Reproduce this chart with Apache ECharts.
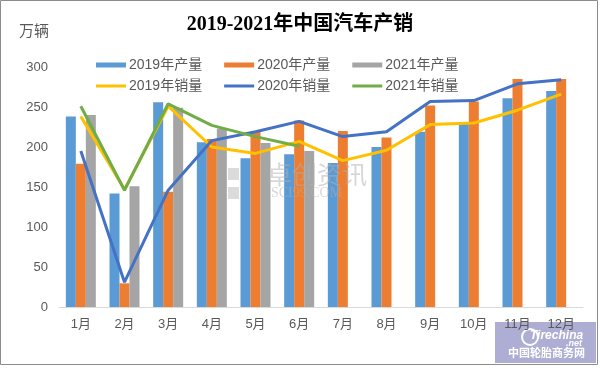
<!DOCTYPE html>
<html>
<head>
<meta charset="utf-8">
<script src="https://cdn.jsdelivr.net/npm/echarts@6/dist/echarts.min.js"></script>
<style>html,body{margin:0;padding:0;background:#fff;}#c{width:600px;height:369px;}</style>
</head>
<body>
<div id="c"></div>
<script>
const months = ['1月','2月','3月','4月','5月','6月','7月','8月','9月','10月','11月','12月'];
const prod2019 = [238, 142, 256, 206, 186, 191, 180, 200, 219, 229, 261, 270];
const prod2020 = [179, 29.6, 144, 210, 219, 233, 220, 212, 252, 257, 285, 285];
const prod2021 = [240, 151, 249, 223, 205, 195, null, null, null, null, null, null];
const sales2019 = [238, 147, 251, 200, 192, 207, 183, 196, 228, 230, 246, 266];
const sales2020 = [195, 31, 146, 208, 219, 232, 213, 219, 257, 258, 279, 284];
const sales2021 = [251, 146, 254, 227, 213, 201, null, null, null, null, null, null];
const yTicks = [0, 50, 100, 150, 200, 250, 300];

const FONT = '"Liberation Sans","Noto Sans CJK SC",sans-serif';
const txt = '#595959';
const lineIcon = 'path://M0,0L30,0L30,3L0,3Z';

const chart = echarts.init(document.getElementById('c'), null, {renderer: 'canvas'});
const legendBase = {
  left: 96, padding: 0, itemWidth: 30, itemHeight: 5, itemGap: 22,
  textStyle: {color: txt, fontSize: 14, fontFamily: FONT, padding: [0,0,0,-2]},
  selectedMode: false
};
chart.setOption({
  animation: false,
  title: {
    text: '2019-2021年中国汽车产销', left: 'center', top: 10,
    textStyle: {fontSize: 20, fontWeight: 'bold', color: '#000', fontFamily: '"Liberation Serif","Noto Sans CJK SC",serif'}
  },
  legend: [
    Object.assign({}, legendBase, {top: 58, data: [
      {name: '2019年产量', icon: 'rect'}, {name: '2020年产量', icon: 'rect'}, {name: '2021年产量', icon: 'rect'}]}),
    Object.assign({}, legendBase, {top: 79, data: [
      {name: '2019年销量', icon: lineIcon}, {name: '2020年销量', icon: lineIcon}, {name: '2021年销量', icon: lineIcon}]})
  ],
  grid: {left: 59, right: 17, top: 67, bottom: 62},
  xAxis: {
    type: 'category', data: months, z: 10,
    axisLine: {lineStyle: {color: '#d9d9d9', width: 1}},
    axisTick: {show: false},
    axisLabel: {color: txt, fontSize: 13, fontFamily: FONT, margin: 11}
  },
  yAxis: {
    type: 'value', min: yTicks[0], max: yTicks[yTicks.length-1], interval: yTicks[1]-yTicks[0],
    splitLine: {show: false}, axisLine: {show: false}, axisTick: {show: false},
    axisLabel: {color: txt, fontSize: 13, fontFamily: FONT, margin: 11}
  },
  series: [
    {name: '2019年产量', type: 'bar', data: prod2019, barWidth: 10, barGap: '0%', itemStyle: {color: '#5B9BD5'}},
    {name: '2020年产量', type: 'bar', data: prod2020, barWidth: 10, barGap: '0%', itemStyle: {color: '#ED7D31'}},
    {name: '2021年产量', type: 'bar', data: prod2021, barWidth: 10, barGap: '0%', itemStyle: {color: '#A5A5A5'}},
    {name: '2019年销量', type: 'line', data: sales2019, showSymbol: false, symbol: 'none', itemStyle: {color: '#FFC000'}, lineStyle: {width: 3, color: '#FFC000'}},
    {name: '2020年销量', type: 'line', data: sales2020, showSymbol: false, symbol: 'none', itemStyle: {color: '#4472C4'}, lineStyle: {width: 3, color: '#4472C4'}},
    {name: '2021年销量', type: 'line', data: sales2021, showSymbol: false, symbol: 'none', itemStyle: {color: '#70AD47'}, lineStyle: {width: 3, color: '#70AD47'}}
  ],
  graphic: [
    {type: 'rect', z: 0, shape: {x: 0.5, y: 0.5, width: 597, height: 364}, style: {fill: 'none', stroke: '#8c8c8c', lineWidth: 1}},
    {type: 'text', z: 10, left: 19, top: 24, style: {text: '万辆', fill: txt, fontSize: 15, fontFamily: FONT}},
    // watermark
    {type: 'rect', z: 10, shape: {x: 228, y: 168, width: 11, height: 12}, style: {fill: 'rgba(190,190,190,0.55)'}},
    {type: 'rect', z: 10, shape: {x: 228, y: 187, width: 11, height: 12}, style: {fill: 'rgba(190,190,190,0.55)'}},
    {type: 'text', z: 10, left: 267, top: 165, style: {text: '卓创资讯', fill: 'rgba(175,175,175,0.5)', fontSize: 25, fontFamily: FONT}},
    {type: 'text', z: 10, left: 271, top: 186, style: {text: 'SCI99.COM', fill: 'rgba(175,175,175,0.5)', fontSize: 14, fontFamily: '"Liberation Serif",serif'}},
    // logo
    {type: 'rect', z: 0, shape: {x: 495, y: 322, width: 101, height: 41}, style: {fill: 'rgba(160,160,205,0.85)'}},
    {type: 'circle', z: 0, shape: {cx: 530, cy: 337, r: 8}, style: {fill: 'none', stroke: '#ffffff', lineWidth: 2}},
    {type: 'text', z: 0, left: 530, top: 330, style: {text: 'Tirechina', fill: '#fff', fontSize: 12, fontWeight: 'bold', fontStyle: 'italic', fontFamily: FONT}},
    {type: 'text', z: 0, left: 566, top: 339, style: {text: '.net', fill: '#fff', fontSize: 9, fontWeight: 'bold', fontStyle: 'italic', fontFamily: FONT}},
    {type: 'text', z: 0, left: 508, top: 347, style: {text: '中国轮胎商务网', fill: '#fff', fontSize: 11, fontWeight: 'bold', fontFamily: '"Noto Sans CJK SC",sans-serif'}}
  ]
});
</script>
</body>
</html>
